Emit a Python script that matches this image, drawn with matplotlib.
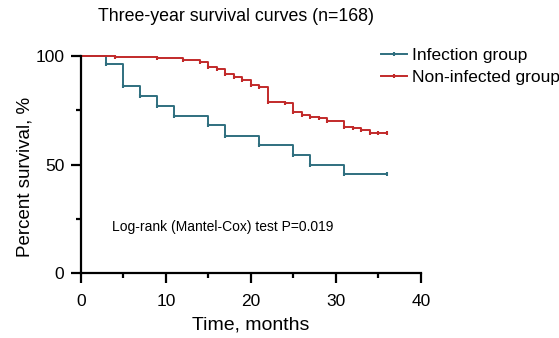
import matplotlib
matplotlib.use("Agg")
import matplotlib.pyplot as plt
from matplotlib.lines import Line2D
from matplotlib.ticker import MultipleLocator

plt.rcParams['font.family'] = ['Liberation Sans', 'DejaVu Sans']

# Kaplan-Meier step data (months, % survival after step)
inf_time = [0, 3, 5, 7, 9, 11, 15, 17, 21, 25, 27, 31, 36]
inf_surv = [100, 96.0, 86.2, 81.6, 77.0, 72.4, 68.2, 63.2, 59.0, 54.4, 49.8, 45.5, 45.5]

non_time = [0, 4, 9, 12, 14, 15, 16, 17, 18, 19, 20, 21, 22, 24, 25, 26, 27, 28,
            29, 31, 32, 33, 34, 35, 36]
non_surv = [100, 99.5, 99.0, 97.8, 97.0, 95.0, 94.0, 91.6, 90.3, 88.8, 86.6, 85.5,
            78.9, 78.1, 74.3, 72.6, 72.0, 71.2, 70.1, 67.4, 66.6, 65.9, 64.7, 64.7, 64.7]

teal = '#2f6f7f'
red = '#c22a2a'

fig = plt.figure(figsize=(5.59, 3.38), dpi=100)
ax = fig.add_axes([0.1449, 0.1914, 0.6082, 0.6438])

ax.step(inf_time, inf_surv, where='post', color=teal, lw=1.4, clip_on=False)
ax.plot(inf_time[1:], inf_surv[1:], ls='none', marker='|', ms=3.5, mew=1.5,
        color=teal, clip_on=False)
ax.step(non_time, non_surv, where='post', color=red, lw=1.4, clip_on=False)
ax.plot(non_time[1:], non_surv[1:], ls='none', marker='|', ms=3.5, mew=1.5,
        color=red, clip_on=False)

ax.set_xlim(0, 40)
ax.set_ylim(0, 100)
ax.xaxis.set_major_locator(MultipleLocator(10))
ax.xaxis.set_minor_locator(MultipleLocator(5))
ax.yaxis.set_major_locator(MultipleLocator(50))
ax.yaxis.set_minor_locator(MultipleLocator(25))
for s in ['top', 'right']:
    ax.spines[s].set_visible(False)
for s in ['left', 'bottom']:
    ax.spines[s].set_linewidth(1.6)
ax.tick_params(which='major', length=7, width=1.6, labelsize=12.5)
ax.tick_params(which='minor', length=3.5, width=1.6)
ax.tick_params(axis='x', which='major', pad=8)
ax.tick_params(axis='y', which='major', pad=5)

ax.set_xlabel('Time, months', fontsize=14, labelpad=5)
ax.set_ylabel('Percent survival, %', fontsize=13.5, labelpad=1)
ax.yaxis.label.set_y(0.445)
fig.text(0.423, 0.952, 'Three-year survival curves (n=168)', fontsize=12.8,
         ha='center', va='center')
ax.text(3.6, 21.3, 'Log-rank (Mantel-Cox) test P=0.019', fontsize=10,
        va='center', ha='left')

handles = [Line2D([0, 0.5, 1], [0, 0, 0], color=teal, lw=1.4, marker='|', ms=3.5,
                  mew=1.5, markevery=[1]),
           Line2D([0, 0.5, 1], [0, 0, 0], color=red, lw=1.4, marker='|', ms=3.5,
                  mew=1.5, markevery=[1])]
fig.legend(handles, ['Infection group', 'Non-infected group'],
           loc='upper left', bbox_to_anchor=(0.681, 0.857), frameon=False,
           fontsize=12.5, handlelength=1.5, handletextpad=0.3, labelspacing=0.35,
           borderpad=0, borderaxespad=0)

fig.savefig('out.png', dpi=100)
